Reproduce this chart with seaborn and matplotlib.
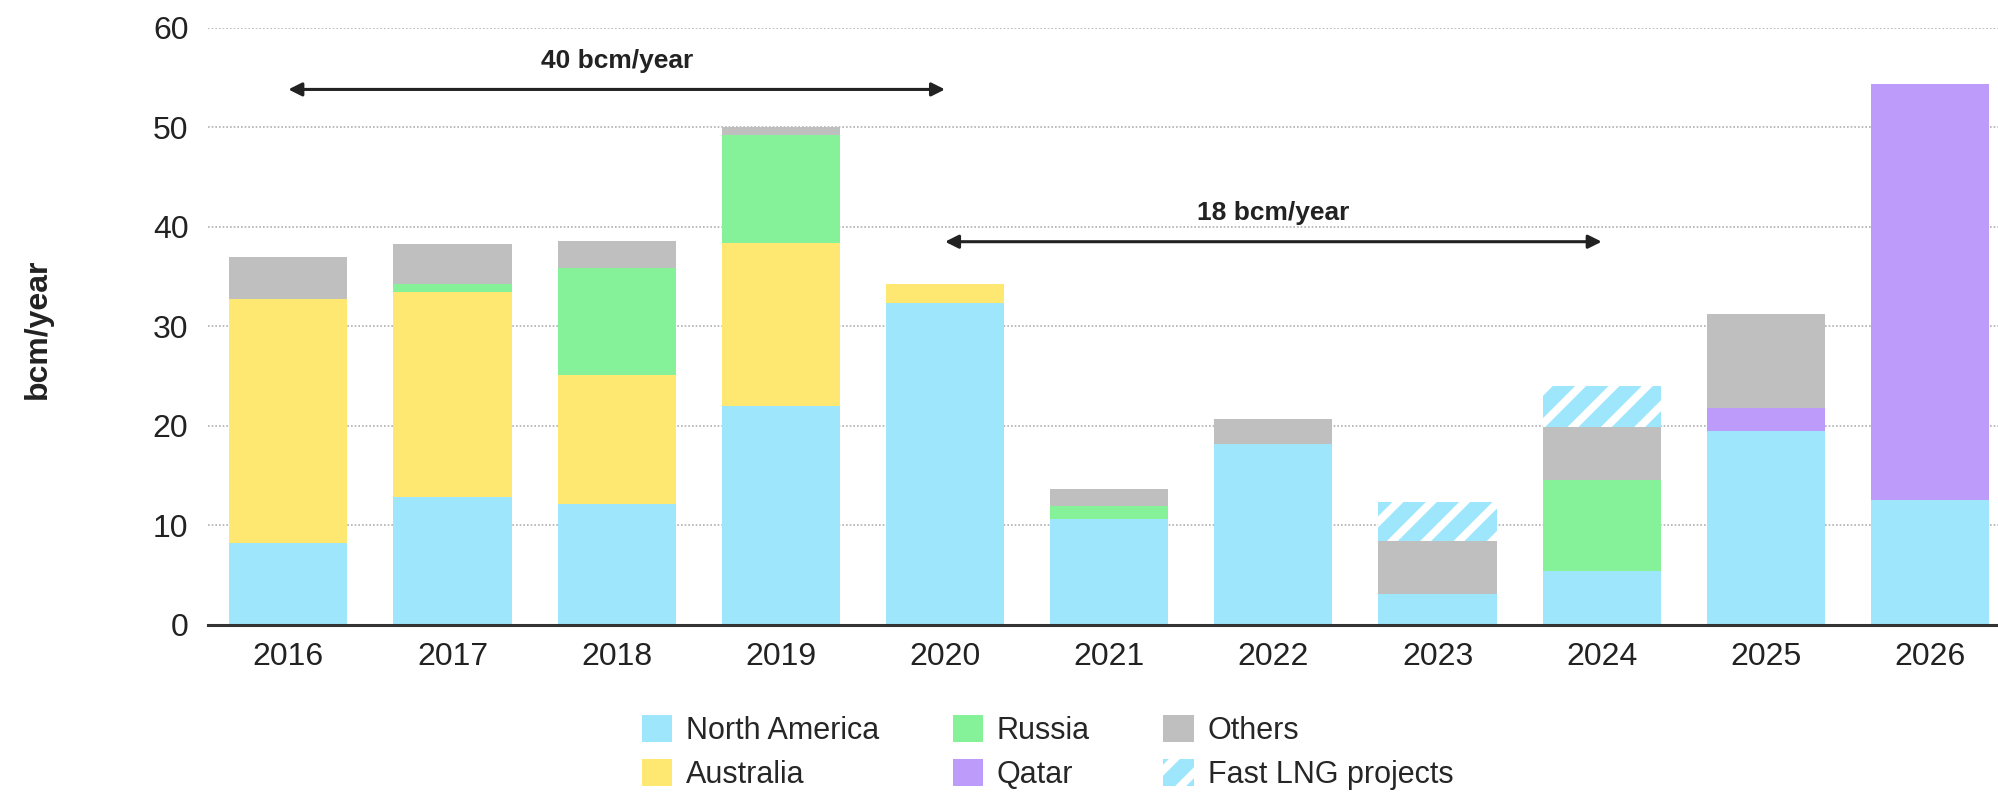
import numpy as np
import pandas as pd
import matplotlib
matplotlib.use('Agg')
import matplotlib.pyplot as plt
from matplotlib.patches import Patch
import seaborn as sns

# dados (bcm/ano)
anos = ['2016', '2017', '2018', '2019', '2020', '2021', '2022', '2023', '2024', '2025', '2026']
north_america = [8.2, 12.8, 12.1, 22.0, 32.3, 10.6, 18.2, 3.1, 5.4, 19.5, 12.5]
australia = [24.5, 20.6, 13.0, 16.4, 2.0, 0, 0, 0, 0, 0, 0]
russia = [0, 0.9, 10.8, 10.8, 0, 1.3, 0, 0, 9.2, 0, 0]
qatar = [0, 0, 0, 0, 0, 0, 0, 0, 0, 2.3, 41.8]
others = [4.3, 4.0, 2.7, 0.8, 0, 1.8, 2.45, 5.3, 5.3, 9.4, 0]
fast_lng = [0, 0, 0, 0, 0, 0, 0, 3.9, 4.1, 0, 0]

series = ['North America', 'Australia', 'Russia', 'Qatar', 'Others', 'Fast LNG projects']
valores = [north_america, australia, russia, qatar, others, fast_lng]
cores = ['#9de6fb', '#fee872', '#85f29a', '#bd9bfa', '#bfbfbf', '#9de6fb']

# anotações: (texto, ano inicial, ano final, altura)
anotacoes = [('40 bcm/year', '2016', '2020', 53.8), ('18 bcm/year', '2020', '2024', 38.5)]

sns.set_style('white')
plt.rcParams['font.family'] = ['Liberation Sans', 'DejaVu Sans']
plt.rcParams['hatch.linewidth'] = 2.8

fig, ax = plt.subplots(figsize=(9.995, 3.96), dpi=200)
fig.subplots_adjust(left=0.104, right=1.0, top=0.965, bottom=0.211)

# empilhamento: desenha os acumulados de cima para baixo
df = pd.DataFrame(dict(zip(series, valores)), index=anos)
acumulado = df.cumsum(axis=1)
for nome, cor in reversed(list(zip(series, cores))):
    hatch = '//' if nome == 'Fast LNG projects' else None
    sns.barplot(x=acumulado.index, y=acumulado[nome].values, color=cor, saturation=1,
                width=0.72, ax=ax, hatch=hatch, edgecolor='white', linewidth=0, zorder=2)

ax.set_ylim(0, 60)
ax.set_xlim(-0.49, 10.42)
ax.set_yticks(range(0, 61, 10))
ax.yaxis.grid(True, linestyle=(0, (1, 1.2)), color='#b0b0b0', linewidth=0.6, zorder=0)
ax.get_ygridlines()[0].set_visible(False)
ax.set_axisbelow(True)
for s in ['top', 'right', 'left']:
    ax.spines[s].set_visible(False)
ax.spines['bottom'].set_color('#333333')
ax.spines['bottom'].set_linewidth(1.1)
ax.spines['bottom'].set_zorder(5)
ax.tick_params(axis='both', length=0, labelsize=11.5, colors='#222222')
ax.tick_params(axis='y', pad=7)
ax.tick_params(axis='x', pad=6)
ax.set_xlabel('')
ax.set_ylabel('')
fig.text(0.019, 0.585, 'bcm/year', rotation=90, ha='center', va='center',
         fontsize=11.5, fontweight='bold', color='#222222')

for texto, ini, fim, y in anotacoes:
    x0, x1 = anos.index(ini), anos.index(fim)
    ax.annotate('', xy=(x1, y), xytext=(x0, y),
                arrowprops=dict(arrowstyle='<|-|>', color='#222222', lw=1.1,
                                mutation_scale=10, shrinkA=0, shrinkB=0))
    ax.text((x0 + x1) / 2, y + 2.9, texto, ha='center', va='center',
            fontsize=9.5, fontweight='bold', color='#222222')

handles = []
for nome, cor in zip(series, cores):
    hatch = '//' if nome == 'Fast LNG projects' else None
    handles.append(Patch(facecolor=cor, edgecolor='white', linewidth=0, hatch=hatch, label=nome))
fig.legend(handles=handles, ncol=3, loc='center', bbox_to_anchor=(0.524, 0.05),
           frameon=False, fontsize=11, handlelength=1.0, handleheight=1.0,
           handletextpad=0.45, columnspacing=2.4, labelspacing=0.4)

fig.savefig('out.png', dpi=200)
